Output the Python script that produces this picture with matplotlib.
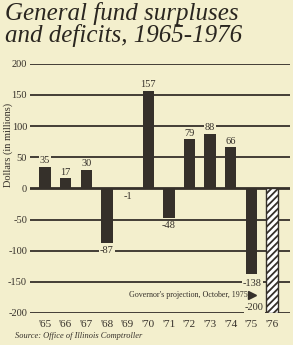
import numpy as np
import matplotlib
matplotlib.use('Agg')
from matplotlib import pyplot as plt

# data
years = ["'65", "'66", "'67", "'68", "'69", "'70", "'71", "'72", "'73", "'74", "'75", "'76"]
values = [35, 17, 30, -87, -1, 157, -48, 79, 88, 66, -138, -200]
projected = [False] * 11 + [True]
y_ticks = [200, 150, 100, 50, 0, -50, -100, -150, -200]

BG = '#f3efcd'
INK = '#35302a'
SERIF = 'Liberation Serif'
plt.rcParams['hatch.linewidth'] = 1.3

fig = plt.figure(figsize=(2.93, 3.45), dpi=100)
fig.patch.set_facecolor(BG)
ax = fig.add_axes([0.102, 0.093, 0.888, 0.722])
ax.set_facecolor(BG)

x = np.arange(len(years))
ax.set_xlim(-0.73, 11.87)
ax.set_ylim(-200, 200)

# grid lines (zero line heavier)
for t in y_ticks:
    ax.axhline(t, color=INK, lw=2.0 if t == 0 else 1.3, zorder=1)

for i, v in enumerate(values):
    if projected[i]:
        ax.bar(x[i], v, width=0.55, facecolor='white', edgecolor=INK,
               hatch='/////', lw=1.0, zorder=3)
    else:
        ax.bar(x[i], v, width=0.55, color=INK, zorder=3)

# value labels
box = dict(facecolor=BG, edgecolor='none', pad=0.6)
for i, v in enumerate(values):
    if projected[i]:
        ax.text(x[i] - 0.4, v + 9, str(v), ha='right', va='center',
                fontsize=7.5, family=SERIF, color=INK, bbox=box, zorder=4)
    elif v >= 0:
        ax.text(x[i], v + 2, str(v), ha='center', va='bottom',
                fontsize=7.5, family=SERIF, color=INK, bbox=box, zorder=4)
    elif v < -100:
        ax.text(x[i] + 0.05, v - 14, str(v), ha='center', va='center',
                fontsize=7.5, family=SERIF, color=INK, bbox=box, zorder=4)
    else:
        ax.text(x[i], v - 5, str(v), ha='center', va='top',
                fontsize=7.5, family=SERIF, color=INK, bbox=box, zorder=4)

ax.text(x[-1] - 1.2, -172, "Governor's projection, October, 1975",
        ha='right', va='center', fontsize=5.8, family=SERIF, color=INK)
ax.plot(x[-1] - 0.95, -172, marker='>', ms=5.5, color=INK, clip_on=False)

ax.set_xticks(x)
ax.set_xticklabels(years, family=SERIF, fontsize=8, color=INK)
ax.set_yticks(y_ticks)
ax.set_yticklabels([str(t) for t in y_ticks], family=SERIF, fontsize=7.5, color=INK)
ax.tick_params(axis='both', length=0, pad=2)
ax.tick_params(axis='x', pad=5)
for s in ax.spines.values():
    s.set_visible(False)

fig.text(0.027, 0.58, 'Dollars (in millions)', rotation=90, ha='center', va='center',
         fontsize=7.5, family=SERIF, color=INK)

fig.text(0.017, 0.995, 'General fund surpluses\nand deficits, 1965-1976', ha='left', va='top',
         fontsize=18, family=SERIF, style='italic', color='#2a2620', linespacing=0.95)

fig.text(0.05, 0.015, 'Source: Office of Illinois Comptroller', ha='left', va='bottom',
         fontsize=6, family=SERIF, style='italic', color=INK)

plt.savefig('out.png', facecolor=BG)
